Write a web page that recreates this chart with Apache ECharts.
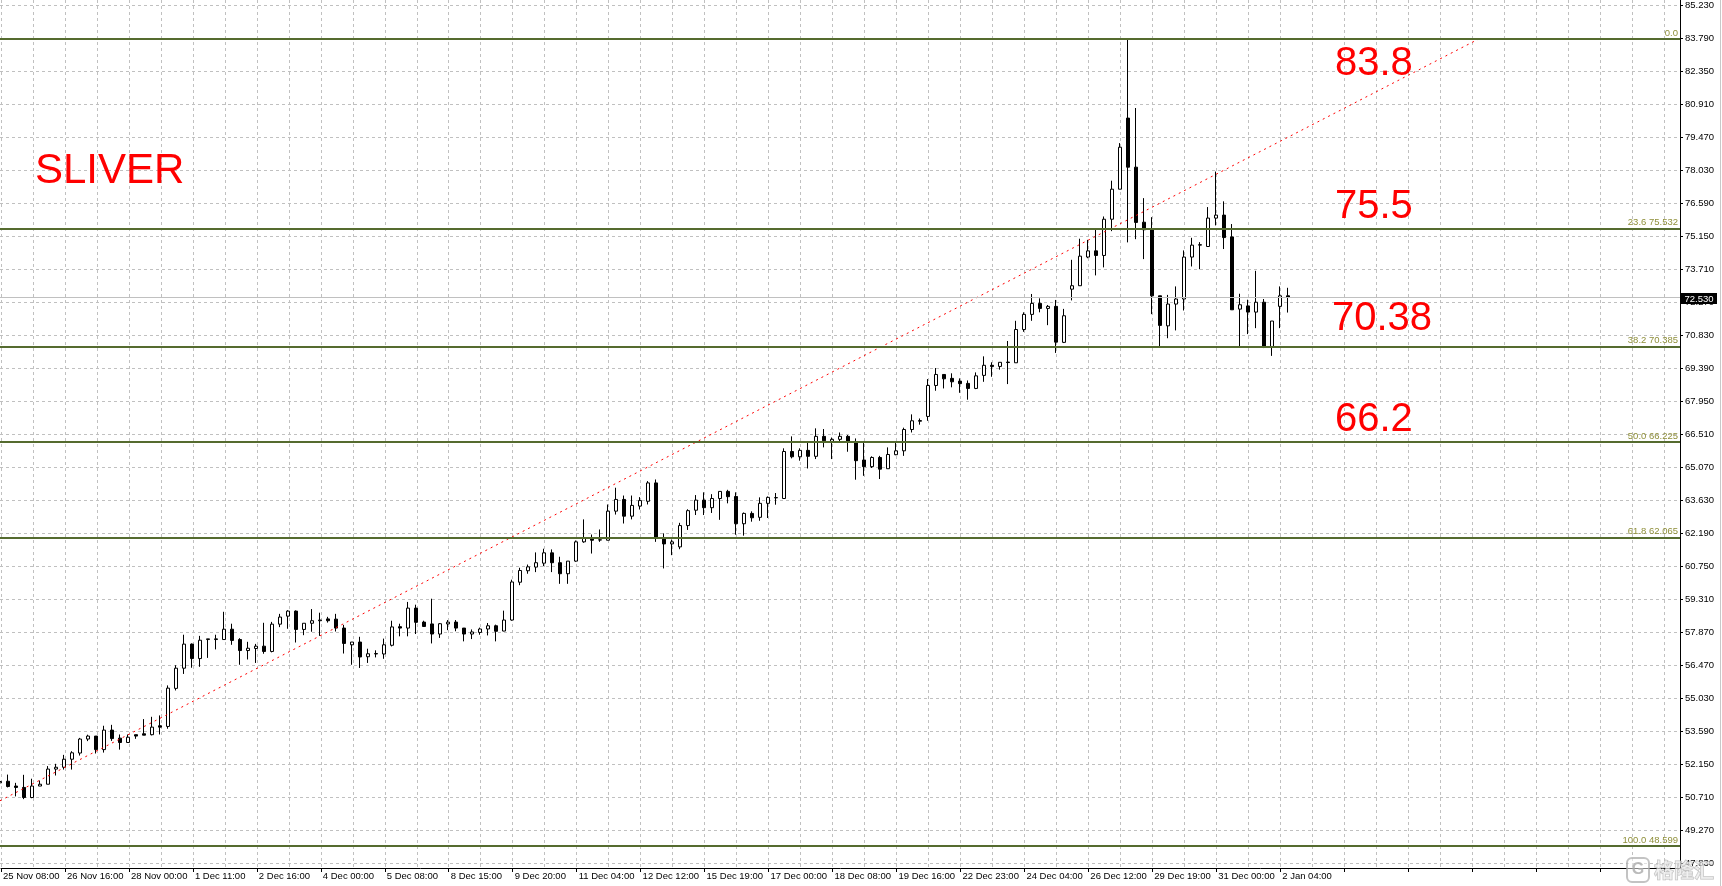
<!DOCTYPE html>
<html><head><meta charset="utf-8">
<script src="https://cdn.jsdelivr.net/npm/echarts@6/dist/echarts.min.js"></script>
<style>html,body{margin:0;padding:0;background:#fff;overflow:hidden;width:1722px;height:886px;}#c{position:absolute;left:0;top:-28px;width:1722px;height:925px;}</style>
</head><body><div id="c"></div>
<script>
// ---- data ----
const opens = [51.35,51.42,51.21,51.15,50.71,51.21,51.29,51.95,52.03,52.38,52.65,53.26,53.39,52.80,53.65,53.30,53.11,53.45,53.49,53.45,53.84,53.81,55.47,56.35,57.40,56.77,57.60,57.60,57.60,58.05,57.60,57.12,57.21,57.31,57.08,58.27,58.62,58.84,58.04,58.31,58.42,58.50,58.49,58.10,57.37,57.49,56.85,56.97,56.97,57.35,58.16,58.10,58.97,58.36,58.28,57.84,58.28,58.36,58.10,57.84,57.91,58.06,58.20,57.97,58.45,60.10,60.60,60.76,60.93,61.38,60.95,60.47,61.02,61.86,62.01,61.94,61.93,63.20,63.71,62.98,63.42,63.63,64.43,62.01,61.77,61.64,62.57,63.24,63.68,63.35,63.75,64.06,63.84,62.65,63.10,62.93,63.54,63.78,63.75,65.80,65.57,65.85,65.59,66.46,66.24,66.33,66.46,66.20,65.43,65.14,65.54,65.05,65.66,65.83,66.76,67.12,67.33,68.68,69.16,68.99,68.87,68.77,68.55,69.12,69.56,69.51,69.70,69.67,71.12,71.78,72.26,72.04,72.13,70.56,72.88,73.03,74.28,74.55,74.35,75.93,77.24,80.34,78.20,75.80,75.47,72.59,71.28,72.23,72.45,74.28,74.80,74.74,75.98,76.11,75.16,72.01,72.15,71.88,72.31,70.38,72.13,72.59];
const closes = [51.41,51.19,51.15,50.71,51.21,51.29,51.95,52.03,52.38,52.66,53.26,53.39,52.80,53.65,53.28,53.11,53.34,53.39,53.43,53.78,53.78,55.48,56.35,57.40,56.77,57.57,57.63,57.63,58.05,57.56,57.12,57.22,57.31,57.08,58.27,58.58,58.84,58.04,58.31,58.42,58.45,58.42,58.10,57.43,57.49,56.84,56.98,56.99,57.37,58.15,58.10,58.97,58.35,58.17,57.84,58.29,58.36,58.10,57.84,57.93,58.06,58.20,57.96,58.45,60.11,60.61,60.77,60.95,61.38,60.95,60.47,61.02,61.86,62.01,61.93,61.95,63.20,63.71,62.98,63.45,63.66,64.43,62.01,61.77,61.86,62.57,63.22,63.68,63.35,63.75,64.06,63.83,62.65,63.10,62.91,63.54,63.80,63.79,65.80,65.57,65.85,65.59,66.46,66.27,66.33,66.46,66.25,65.40,65.14,65.54,65.03,65.67,65.83,66.76,67.14,67.15,68.68,69.16,68.97,68.84,68.76,68.55,69.10,69.56,69.51,69.69,69.68,71.12,71.78,72.26,72.04,72.13,70.57,71.72,73.03,74.32,74.55,74.35,75.93,77.24,79.07,78.20,75.79,75.47,72.59,71.30,72.23,72.45,74.28,74.80,74.82,75.98,76.11,75.13,71.98,72.20,71.88,72.31,70.38,71.49,72.59,72.53];
const lows = [51.30,51.15,50.76,50.64,50.68,51.21,51.29,51.67,51.93,51.93,52.54,53.17,52.63,52.67,53.18,52.80,53.10,53.27,53.43,53.42,53.46,53.71,55.38,56.10,56.37,56.41,56.80,57.17,57.60,57.37,56.50,56.73,56.58,56.98,57.04,58.14,58.07,57.47,57.79,57.94,57.76,58.34,57.95,56.99,56.50,56.36,56.58,56.82,56.76,57.30,57.74,57.74,57.84,58.15,57.43,57.67,58.01,57.96,57.52,57.62,57.81,57.78,57.52,57.96,58.42,59.97,60.47,60.54,60.80,60.54,60.03,60.03,60.99,61.82,61.35,61.86,61.93,63.05,62.66,62.84,63.27,63.49,61.86,60.70,61.28,61.54,62.38,63.03,63.03,63.12,62.82,63.54,62.17,62.13,62.74,62.78,62.90,63.48,63.75,65.50,65.40,65.06,65.47,65.98,65.47,66.25,65.79,64.57,64.74,65.08,64.60,65.05,65.64,65.61,66.63,66.97,67.14,68.45,68.55,68.60,68.36,68.06,68.52,68.84,69.06,69.37,68.74,69.67,71.02,71.50,71.87,71.31,70.10,70.53,72.39,73.03,74.23,73.48,73.83,75.41,77.24,74.92,75.06,74.19,71.79,70.38,70.74,71.08,71.95,73.87,73.75,74.74,75.66,74.63,71.98,70.38,70.92,71.18,70.31,69.97,71.18,71.86];
const highs = [51.47,51.71,51.35,51.70,51.53,51.45,52.08,52.18,52.57,52.73,53.31,53.45,53.39,53.84,53.88,53.46,53.46,53.45,54.13,54.23,54.29,55.60,56.48,57.81,57.43,57.76,57.63,57.81,58.81,58.29,57.66,57.50,57.41,58.33,58.37,58.72,58.88,58.87,58.31,58.93,58.77,58.59,58.72,58.24,57.49,57.72,57.20,57.13,57.64,58.42,58.29,59.24,59.12,58.42,59.38,58.32,58.45,58.45,58.10,58.04,58.12,58.32,58.25,58.86,60.21,60.73,60.87,61.40,61.56,61.53,61.21,61.02,61.92,62.84,62.18,62.40,63.49,64.22,63.88,63.88,63.81,64.51,64.58,62.23,61.96,62.69,63.28,63.90,64.02,63.94,64.06,64.13,64.02,63.14,63.19,63.80,63.84,63.99,65.94,66.46,65.94,66.23,66.81,66.78,66.41,66.63,66.52,66.37,66.20,65.59,65.61,65.98,66.20,66.84,67.42,67.24,68.96,69.44,69.16,69.21,68.99,68.90,69.25,69.95,69.69,69.69,70.62,71.50,71.87,72.67,72.48,72.19,72.41,72.02,74.16,75.08,75.03,75.47,76.05,77.61,79.25,83.79,80.78,76.85,76.02,72.59,72.63,73.00,74.57,75.12,74.93,76.46,78.01,76.71,75.72,72.68,72.42,73.68,72.45,71.49,73.00,72.94];

const xTickLabels = ['25 Nov 08:00','26 Nov 16:00','28 Nov 00:00','1 Dec 11:00','2 Dec 16:00','4 Dec 00:00','5 Dec 08:00','8 Dec 15:00','9 Dec 20:00','11 Dec 04:00','12 Dec 12:00','15 Dec 19:00','17 Dec 00:00','18 Dec 08:00','19 Dec 16:00','22 Dec 23:00','24 Dec 04:00','26 Dec 12:00','29 Dec 19:00','31 Dec 00:00','2 Jan 04:00'];
const yTickLabels = ['47.830','49.270','50.710','52.150','53.590','55.030','56.470','57.870','59.310','60.750','62.190','63.630','65.070','66.510','67.950','69.390','70.830','72.270','73.710','75.150','76.590','78.030','79.470','80.910','82.350','83.790','85.230'];
const fibLevels = ['0.0','23.6','38.2','50.0','61.8','100.0'];
const fibPrices = [83.790, 75.532, 70.385, 66.225, 62.065, 48.599];
const lastPrice = 72.530;
const trendBars = [0, 185];
const trendPrices = [50.57, 83.82];
const noteTexts = ['83.8', '75.5', '70.38', '66.2'];
const titleText = 'SLIVER';

// ---- chart ----
// The chart canvas is 28px taller at the top than the window, so that
// the price grid can start and end on whole axis steps.
const DY = 28;
const SLOTS = 211;            // bar slots across the plot (8 px each)
const TICK = 1.44;            // price-axis step
const AXIS_BASE = 46.39;      // price of the tick just below the visible area
const cats = Array.from({length: SLOTS}, (_, i) => String(i));
const candleData = opens.map((o, i) => [o, closes[i], lows[i], highs[i]]);
const font = 'Liberation Sans, Arial, sans-serif';

const fibMarks = fibPrices.map((p, i) => ({
  yAxis: p,
  name: i === 0 ? fibLevels[i] : fibLevels[i] + ' ' + p.toFixed(3)
}));

const chart = echarts.init(document.getElementById('c'), null, {renderer: 'canvas'});
const option = {
  animation: false,
  backgroundColor: '#ffffff',
  grid: [
    {left: 0, right: 42, top: 0.04, bottom: 0.42},
    {left: 0, right: 42, top: DY, bottom: 29}
  ],
  xAxis: [
    {type: 'category', gridIndex: 0, data: cats, boundaryGap: false, show: false},
    {type: 'category', gridIndex: 1, data: cats, boundaryGap: false,
      axisLine: {show: true, onZero: false, lineStyle: {color: '#000', width: 1}},
      axisTick: {show: true, interval: (i) => i % 8 === 0, length: 4, lineStyle: {color: '#000'}},
      axisLabel: {show: true, interval: (i) => i % 8 === 0,
        formatter: (v, i) => (i % 8 === 0 && xTickLabels[i / 8]) ? xTickLabels[i / 8] : '',
        align: 'left', margin: 3, padding: [0, 0, 0, 2], color: '#000', fontFamily: font, fontSize: 9.5},
      splitLine: {show: true, interval: (i) => i % 4 === 0, lineStyle: {color: '#c0c0c0', width: 1, type: [3, 3]}}
    },
    {type: 'value', gridIndex: 0, min: 0, max: SLOTS - 1, show: false}
  ],
  yAxis: [
    {type: 'value', gridIndex: 0, min: AXIS_BASE, max: AXIS_BASE + 28 * TICK, show: false},
    {type: 'value', gridIndex: 0, min: 0, max: 28 * TICK, interval: TICK, position: 'right',
      axisLine: {show: false},
      axisTick: {show: true, length: 3, lineStyle: {color: '#000'}},
      axisLabel: {show: true, margin: 5, color: '#000', fontFamily: font, fontSize: 9.5, padding: [3, 0, 0, 0],
        formatter: (v) => { const k = Math.round(v / TICK); return yTickLabels[k - 1] || ''; }},
      splitLine: {show: true, lineStyle: {color: '#c0c0c0', width: 1, type: [3, 3]}}
    },
    {type: 'value', gridIndex: 1, min: 0, max: 1, position: 'right',
      axisLine: {show: true, onZero: false, lineStyle: {color: '#000', width: 1}},
      axisTick: {show: false}, axisLabel: {show: false}, splitLine: {show: false}}
  ],
  series: [
    {
      type: 'candlestick', xAxisIndex: 0, yAxisIndex: 0, data: candleData,
      barWidth: 4, z: 3,
      itemStyle: {color: '#ffffff', color0: '#000000', borderColor: '#000000', borderColor0: '#000000', borderWidth: 1}
    },
    {
      type: 'line', xAxisIndex: 0, yAxisIndex: 0, data: [], z: 2,
      markLine: {silent: true, symbol: ['none', 'none'], animation: false,
        data: [{yAxis: lastPrice, lineStyle: {color: '#c0c0c0', width: 1, type: 'solid'}, label: {show: false}}]}
    },
    {
      type: 'line', xAxisIndex: 2, yAxisIndex: 0, z: 4,
      data: trendBars.map((b, i) => [b, trendPrices[i]]),
      symbol: 'none', silent: true,
      lineStyle: {color: '#ff0000', width: 1, type: [2, 4]}
    },
    {
      type: 'line', xAxisIndex: 0, yAxisIndex: 0, data: [], z: 5,
      markLine: {silent: true, symbol: ['none', 'none'], animation: false,
        lineStyle: {color: '#556b2f', width: 2, type: 'solid'},
        label: {show: true, position: 'insideEndTop', formatter: (p) => p.name, color: '#8f8f3a',
          fontFamily: font, fontSize: 9.5, distance: [2, 1]},
        data: fibMarks}
    }
  ],
  graphic: [
    {type: 'text', x: 35, y: 171 + DY, z: 100, style: {text: titleText, fill: '#ff0000', font: '42px ' + font, align: 'left', verticalAlign: 'middle'}},
    {type: 'text', x: 1335, y: 64 + DY, z: 100, style: {text: noteTexts[0], fill: '#ff0000', font: '40px ' + font, align: 'left', verticalAlign: 'middle'}},
    {type: 'text', x: 1335, y: 207 + DY, z: 100, style: {text: noteTexts[1], fill: '#ff0000', font: '40px ' + font, align: 'left', verticalAlign: 'middle'}},
    {type: 'text', x: 1332, y: 319 + DY, z: 100, style: {text: noteTexts[2], fill: '#ff0000', font: '40px ' + font, align: 'left', verticalAlign: 'middle'}},
    {type: 'text', x: 1335, y: 420 + DY, z: 100, style: {text: noteTexts[3], fill: '#ff0000', font: '40px ' + font, align: 'left', verticalAlign: 'middle'}},
    {type: 'rect', x: 1681, y: 293 + DY, z: 100, shape: {width: 36, height: 11}, style: {fill: '#000'}},
    {type: 'text', x: 1699, y: 299 + DY, z: 101, style: {text: lastPrice.toFixed(3), fill: '#fff', font: '9.5px ' + font, align: 'center', verticalAlign: 'middle'}},
    {type: 'rect', x: 1720, y: 0, z: 100, shape: {width: 1, height: 925}, style: {fill: '#c8c8c8'}},
    {type: 'rect', x: 1627, y: 858 + DY, z: 100, shape: {width: 22, height: 24, r: 5}, style: {fill: 'rgba(255,255,255,0.5)', stroke: 'rgba(170,170,170,0.7)', lineWidth: 2}},
    {type: 'text', x: 1638, y: 870 + DY, z: 101, style: {text: 'G', fill: 'rgba(170,170,170,0.8)', font: 'bold 16px ' + font, align: 'center', verticalAlign: 'middle'}},
    {type: 'text', x: 1654, y: 870 + DY, z: 101, style: {text: '格隆汇', fill: 'rgba(235,235,235,0.7)', stroke: 'rgba(160,160,160,0.7)', lineWidth: 1, font: 'bold 20px "Noto Sans CJK SC", sans-serif', align: 'left', verticalAlign: 'middle'}}
  ]
};
chart.setOption(option);
</script>
</body></html>
